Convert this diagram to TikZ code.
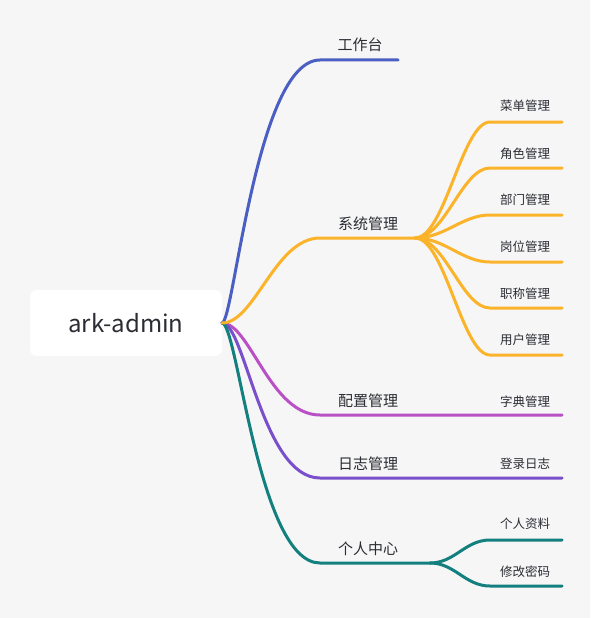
\documentclass[tikz,border=0pt]{standalone}
\usepackage{fontspec}
\setmainfont{Noto Sans CJK SC}
\definecolor{bg}{HTML}{F6F6F6}
\definecolor{txt}{HTML}{2B2D33}
\definecolor{cblue}{HTML}{4A5FC1}
\definecolor{corange}{HTML}{FBB32A}
\definecolor{cmag}{HTML}{BA50C6}
\definecolor{cpurp}{HTML}{7A4FCB}
\definecolor{cteal}{HTML}{13807F}
\begin{document}
\begin{tikzpicture}[x=1pt,y=-1pt,
  br/.style={line width=3pt,line cap=round},
  mainlbl/.style={text=txt,font=\fontsize{15}{18}\selectfont,inner sep=0pt},
  sublbl/.style={text=txt,font=\fontsize{12.5}{15}\selectfont,inner sep=0pt}]
\fill[bg] (0,0) rectangle (590,618);
\useasboundingbox (0,0) rectangle (590,618);
% root
\node[fill=white,rounded corners=7pt,minimum width=192pt,minimum height=66pt,inner sep=0pt,text=txt,font=\fontsize{24}{28}\selectfont] (root) at (126,323) {ark-admin};
\coordinate (r) at (222,323);
% main label nodes
\node[mainlbl] (gzt) at (360,45) {工作台};
\node[mainlbl] (xtgl) at (368,224) {系统管理};
\node[mainlbl] (pzgl) at (368,401) {配置管理};
\node[mainlbl] (rzgl) at (368,464) {日志管理};
\node[mainlbl] (grzx) at (368,549) {个人中心};
% main branch coordinates
\coordinate (a1) at (320,60);  \coordinate (a2) at (398,60);
\coordinate (b1) at (320,238); \coordinate (b2) at (415,238);
\coordinate (c1) at (320,415); \coordinate (c2) at (562,415);
\coordinate (d1) at (320,478); \coordinate (d2) at (562,478);
\coordinate (e1) at (320,563); \coordinate (e2) at (430,563);
% main branches
\draw[br,cblue] (r) .. controls (234,323) and (256,60) .. (a1) -- (a2);
\draw[br,cmag] (r) .. controls (250,323) and (270,415) .. (c1) -- (c2);
\draw[br,cpurp] (r) .. controls (245,323) and (262,478) .. (d1) -- (d2);
\draw[br,cteal] (r) .. controls (238,323) and (258,563) .. (e1) -- (e2);
\draw[br,corange] (r) .. controls (255,323) and (275,238) .. (b1) -- (b2);
% system submenu
\foreach \nm/\y/\ty/\t in {s1/122/106/菜单管理,s2/168/154/角色管理,s3/215/200/部门管理,s4/262/247/岗位管理,s5/308/294/职称管理,s6/355/340/用户管理}{
  \node[sublbl] (\nm l) at (525,\ty) {\t};
  \coordinate (\nm a) at (490,\y);
  \coordinate (\nm b) at (562,\y);
  \draw[br,corange] (b2) .. controls (445,238) and (462,\y) .. (\nm a) -- (\nm b);
}
% config / log sub labels
\node[sublbl] (zdgl) at (525,402) {字典管理};
\node[sublbl] (dlrz) at (525,464) {登录日志};
% personal center subs
\node[sublbl] (grzl) at (525,524) {个人资料};
\node[sublbl] (xgmm) at (525,572) {修改密码};
\coordinate (p1a) at (490,540); \coordinate (p1b) at (562,540);
\coordinate (p2a) at (490,586); \coordinate (p2b) at (562,586);
\draw[br,cteal] (e2) .. controls (455,563) and (465,540) .. (p1a) -- (p1b);
\draw[br,cteal] (e2) .. controls (455,563) and (465,586) .. (p2a) -- (p2b);
\end{tikzpicture}
\end{document}
